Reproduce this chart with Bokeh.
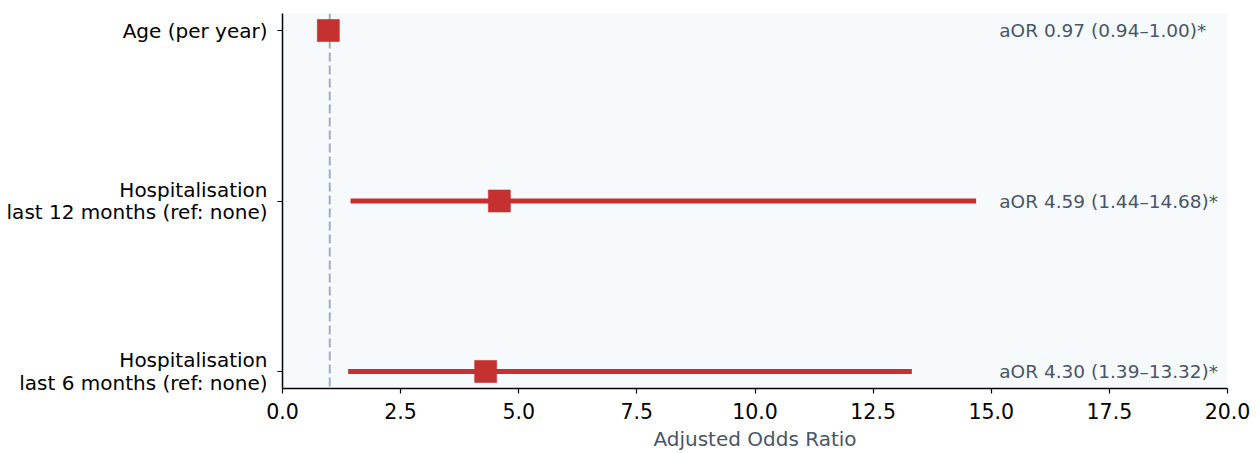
from bokeh.plotting import figure
from bokeh.models import FixedTicker, Span, ColumnDataSource
from bokeh.embed import file_html
from bokeh.resources import INLINE
from bokeh.core.properties import value

labels = ["Age (per year)",
          "Hospitalisation\nlast 12 months (ref: none)",
          "Hospitalisation\nlast 6 months (ref: none)"]
y_pos = [2, 1, 0]
aor = [0.97, 4.59, 4.30]
lower = [0.94, 1.44, 1.39]
upper = [1.00, 14.68, 13.32]
ann = ["aOR 0.97 (0.94\u20131.00)*", "aOR 4.59 (1.44\u201314.68)*", "aOR 4.30 (1.39\u201313.32)*"]
x_ticks = [0, 2.5, 5, 7.5, 10, 12.5, 15, 17.5, 20]

RED = "#c53030"
TXT = "#4a5568"
FONT = "DejaVu Sans"

src = ColumnDataSource(dict(y=y_pos, aor=aor, lo=lower, hi=upper, ann=ann,
                            tx=[15.17] * 3))

p = figure(width=1252, height=453, x_range=(0, 20), y_range=(-0.1, 2.1),
           output_backend="svg", toolbar_location=None,
           min_border_left=282, min_border_right=25, min_border_top=13,
           min_border_bottom=10)
p.background_fill_color = "#f7fafc"
p.border_fill_color = "white"
p.outline_line_color = None
p.grid.visible = False

p.segment(x0="lo", x1="hi", y0="y", y1="y", source=src, line_color=RED, line_width=5)
p.scatter(x="aor", y="y", source=src, marker="square", size=22,
          fill_color=RED, line_color=RED, line_alpha=0.6, line_width=1)
p.add_layout(Span(location=1, dimension="height", line_color="#a0aec0",
                  line_dash="9 4", line_width=2, level="underlay"))
p.text(x="tx", y="y", text="ann", source=src, text_align="left",
       text_baseline="middle", text_color=TXT, text_font_size="18.5px",
       text_font=value(FONT))

# axes
p.xaxis.ticker = FixedTicker(ticks=x_ticks)
p.xaxis.major_label_overrides = {t: f"{t:.1f}" for t in x_ticks}
p.xaxis.axis_label = "Adjusted Odds Ratio"
p.xaxis.axis_label_text_font = FONT
p.xaxis.axis_label_text_font_size = "20px"
p.xaxis.axis_label_text_font_style = "normal"
p.xaxis.axis_label_text_color = TXT
p.xaxis.axis_label_standoff = 5
p.yaxis.ticker = FixedTicker(ticks=y_pos)
p.yaxis.major_label_overrides = {y: l for y, l in zip(y_pos, labels)}
p.yaxis.major_label_text_line_height = 0.95

for ax in (p.xaxis, p.yaxis):
    ax.major_label_text_font = FONT
    ax.major_label_text_color = "black"
    ax.axis_line_color = "black"
    ax.axis_line_width = 1.5
    ax.major_tick_line_color = "black"
    ax.major_tick_line_width = 1.2
    ax.major_tick_out = 5
    ax.major_tick_in = 0
    ax.minor_tick_line_color = None

p.xaxis.major_label_text_font_size = "20.5px"
p.yaxis.major_label_text_font_size = "20px"
p.xaxis.major_label_standoff = 9
p.yaxis.major_label_standoff = 10

open("out.html", "w").write(file_html(p, INLINE))
